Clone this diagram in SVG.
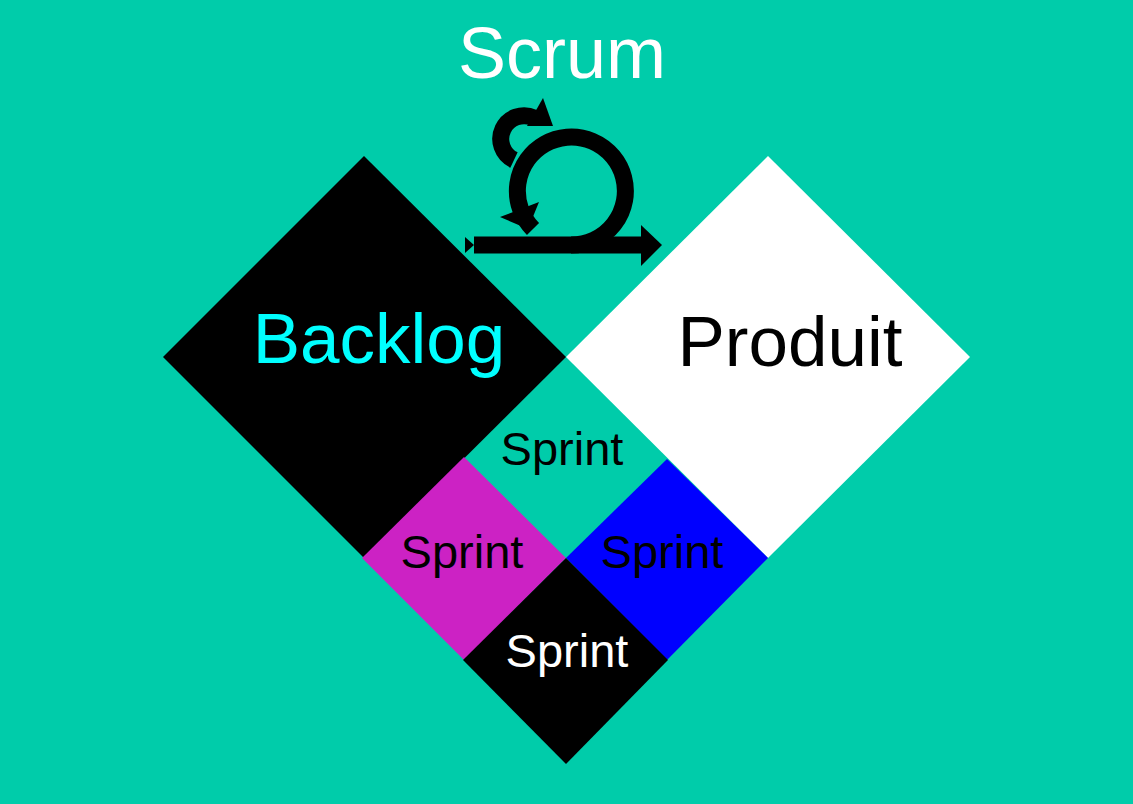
<svg xmlns="http://www.w3.org/2000/svg" width="1133" height="804" viewBox="0 0 1133 804">
<style>
text{font-family:"Liberation Sans",Arial,sans-serif;text-anchor:middle}
.big{font-size:71px}
.sp{font-size:47px}
</style>
<rect width="1133" height="804" fill="#00CCAA"/>
<g id="scrum-icon" fill="none" stroke="#000" stroke-width="17">
<path d="M474,245 H571 A54,54 0 1 0 533,229"/>
<path d="M571,245 H645"/>
<path d="M514,160 A23,23 0 1 1 534,118"/>
<polygon points="641,225 662,245 641,266" fill="#000" stroke="none"/>
<polygon points="465,237 474,245 465,253" fill="#000" stroke="none"/>
<polygon points="500,217 528,229 539,202" fill="#000" stroke="none"/>
<polygon points="543,98 553,126 527,126" fill="#000" stroke="none"/>
</g>
<g id="backlog"><polygon points="163,357 364,156 566,357 364,558" fill="#000"/><text x="379" y="363" class="big" fill="#00FFFF">Backlog</text></g>
<g id="produit"><polygon points="566,357 768,156 970,357 768,558" fill="#fff"/><text x="790" y="366" class="big" fill="#000">Produit</text></g>
<g id="sprint1"><text x="562" y="465" class="sp" fill="#000">Sprint</text></g>
<g id="sprint2"><polygon points="362,558 464,457 566,558 464,660" fill="#CC22C4"/><text x="462" y="568" class="sp" fill="#000">Sprint</text></g>
<g id="sprint3"><polygon points="566,558 667,459 768,558 667,660" fill="#0000FF"/><text x="662" y="568" class="sp" fill="#000">Sprint</text></g>
<g id="sprint4"><polygon points="463,660 566,558 668,660 566,764" fill="#000"/><text x="567" y="667" class="sp" fill="#fff">Sprint</text></g>
<text x="562" y="78" font-size="72" fill="#fff">Scrum</text>
<g id="connectors"/>
</svg>
